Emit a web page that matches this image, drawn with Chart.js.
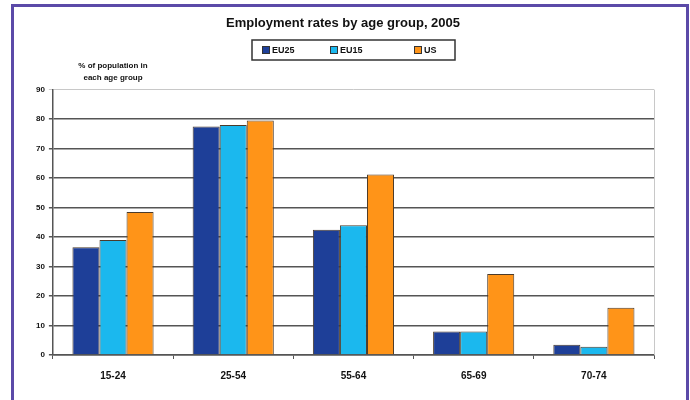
<!DOCTYPE html>
<html>
<head>
<meta charset="utf-8">
<script src="https://cdn.jsdelivr.net/npm/chart.js@4/dist/chart.umd.min.js"></script>
<style>
  html, body { margin: 0; padding: 0; background: #fff; }
  #wrap { position: relative; width: 690px; height: 400px; overflow: hidden; }
  #frame { position: absolute; left: 11px; top: 4px; width: 672px; height: 420px;
           border: 3px solid #5b4aa8; pointer-events: none; }
  canvas { position: absolute; left: 0; top: 0; }
</style>
</head>
<body>
<div id="wrap">
  <canvas id="chart" width="690" height="400"></canvas>
  <div id="frame"></div>
</div>
<script>
// --- data ---
const ageGroups = ['15-24', '25-54', '55-64', '65-69', '70-74'];
const eu25 = [36.5, 77.5, 42.5, 8, 3.5];
const eu15 = [39, 78, 44, 8, 2.8];
const us = [48.5, 79.5, 61.2, 27.5, 16];
const seriesNames = ['EU25', 'EU15', 'US'];
const seriesColors = ['#1e3f98', '#1bb8ee', '#ff9418'];
const yTicks = [0, 10, 20, 30, 40, 50, 60, 70, 80, 90];

const font = "'Liberation Sans', Arial, sans-serif";

new Chart(document.getElementById('chart'), {
    type: 'bar',
    data: {
        labels: ageGroups,
        datasets: [eu25, eu15, us].map((vals, i) => ({
            label: seriesNames[i],
            data: vals,
            backgroundColor: seriesColors[i],
            borderColor: '#4b3b2b',
            borderWidth: 1,
            categoryPercentage: 0.675,
            barPercentage: 1
        }))
    },
    options: {
        responsive: false,
        animation: false,
        layout: { padding: { top: 16, left: 32, right: 36, bottom: 7 } },
        plugins: {
            legend: { display: false },
            tooltip: { enabled: false },
            title: {
                display: true,
                text: 'Employment rates by age group, 2005',
                color: '#111',
                font: { family: font, size: 13, weight: 'bold' },
                padding: { top: 0, bottom: 58 }
            }
        },
        scales: {
            x: {
                offset: true,
                grid: { display: true, drawOnChartArea: false, drawTicks: true, tickLength: 4, color: '#555', offset: true },
                border: { color: '#555', width: 1.5 },
                ticks: { color: '#111', font: { family: font, size: 10, weight: 'bold' }, padding: 11 }
            },
            y: {
                min: 0, max: 90,
                afterBuildTicks: (axis) => { axis.ticks = yTicks.map(v => ({ value: v })); },
                grid: {
                    color: (c) => c.tick && c.tick.value === 90 ? '#c8c8c8' : '#555',
                    lineWidth: (c) => c.tick && c.tick.value === 90 ? 1 : 1.5,
                    tickLength: 4
                },
                border: { color: '#555', width: 1.5 },
                ticks: { color: '#111', font: { family: font, size: 8, weight: 'bold' }, padding: 4 }
            }
        }
    },
    plugins: [{
        id: 'extras',
        afterDraw: (chart) => {
            const { ctx, chartArea: { top, bottom, right } } = chart;
            ctx.save();
            // light right edge of plot
            ctx.strokeStyle = '#c8c8c8';
            ctx.lineWidth = 1;
            ctx.beginPath();
            ctx.moveTo(right + 0.5, top); ctx.lineTo(right + 0.5, bottom);
            ctx.stroke();

            // legend box
            const lx = 252, ly = 40, lw = 203, lh = 20;
            ctx.strokeStyle = '#333';
            ctx.lineWidth = 1.5;
            ctx.strokeRect(lx, ly, lw, lh);
            const itemX = [262, 330, 414];
            ctx.font = `bold 9px ${font}`;
            ctx.textBaseline = 'middle';
            ctx.textAlign = 'left';
            seriesNames.forEach((name, i) => {
                ctx.fillStyle = seriesColors[i];
                ctx.fillRect(itemX[i], ly + 6, 7, 7);
                ctx.strokeStyle = '#333';
                ctx.lineWidth = 1;
                ctx.strokeRect(itemX[i] + 0.5, ly + 6.5, 7, 7);
                ctx.fillStyle = '#111';
                ctx.fillText(name, itemX[i] + 10, ly + lh / 2 + 0.5);
            });

            // y axis caption
            ctx.font = `bold 8px ${font}`;
            ctx.textAlign = 'center';
            ctx.fillStyle = '#111';
            ctx.fillText('% of population in', 113, 66);
            ctx.fillText('each age group', 113, 78);
            ctx.restore();
        }
    }]
});
</script>
</body>
</html>
